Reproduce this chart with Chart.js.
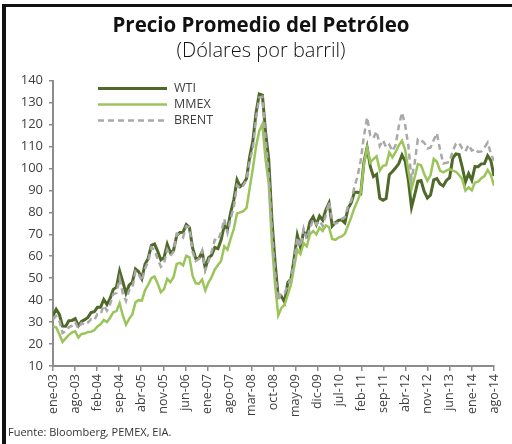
<!DOCTYPE html>
<html>
<head>
<meta charset="utf-8">
<script src="https://cdn.jsdelivr.net/npm/chart.js@4"></script>
<style>
  html, body { margin: 0; padding: 0; background: #fff; }
  #wrap { position: relative; width: 512px; height: 444px; overflow: hidden; }
  #frame { position: absolute; left: 2px; top: 4px; width: 520px; height: 450px;
           border-left: 4px solid #111; border-top: 3px solid #111; }
  #chart { position: absolute; left: 0; top: 0; }
  #source { position: absolute; left: 8px; top: 424px; font: 11px "Open Sans", sans-serif; color: #333; }
</style>
</head>
<body>
<div id="wrap">
  <div id="frame"></div>
  <canvas id="chart" width="512" height="444"></canvas>
  <div id="source">Fuente: Bloomberg, PEMEX, EIA.</div>
</div>
<script>
// Monthly averages, ene-03 .. ago-14 (140 months), USD per barrel
const wti = [
    32.95, 35.83, 33.51, 28.17, 28.11, 30.66, 30.76, 31.57, 28.31, 30.34, 31.11, 32.13,
    34.31, 34.69, 36.74, 36.75, 40.28, 38.03, 40.78, 44.90, 45.94, 53.28, 48.47, 43.15,
    46.84, 48.15, 54.19, 52.98, 49.83, 56.35, 59.00, 64.99, 65.59, 62.26, 58.32, 59.41,
    65.49, 61.63, 62.69, 69.44, 70.84, 70.95, 74.41, 73.04, 63.80, 58.89, 59.08, 61.96,
    54.51, 59.28, 60.44, 63.98, 63.46, 67.49, 74.12, 72.36, 79.92, 85.80, 94.77, 91.69,
    92.97, 95.39, 105.45, 112.58, 125.40, 133.88, 133.37, 116.67, 104.11, 76.61, 57.31, 41.12,
    41.71, 39.09, 47.94, 49.65, 59.03, 69.64, 64.15, 71.05, 69.41, 75.72, 77.99, 74.47,
    78.33, 76.39, 81.20, 84.29, 73.74, 75.34, 76.32, 76.60, 75.24, 81.89, 84.25, 89.15,
    89.17, 88.58, 102.86, 109.53, 100.90, 96.26, 97.30, 86.33, 85.52, 86.32, 97.16, 98.56,
    100.27, 102.20, 106.16, 103.32, 94.66, 82.30, 87.90, 94.13, 94.51, 89.49, 86.53, 87.86,
    94.76, 95.31, 92.94, 92.02, 94.51, 95.77, 104.67, 106.57, 106.29, 100.54, 93.86, 97.63,
    94.62, 100.82, 100.80, 102.07, 102.18, 105.79, 103.59, 96.54
];
const mmex = [
    28.0, 27.6, 24.5, 21.0, 22.6, 24.2, 25.3, 25.8, 23.0, 24.6, 24.8, 25.5,
    25.6, 26.3, 28.0, 29.0, 31.0, 30.0, 32.0, 34.5, 35.0, 38.6, 33.0, 28.8,
    31.5, 33.5, 39.0, 40.0, 39.8, 44.5, 47.0, 50.0, 50.8, 47.5, 43.6, 45.0,
    49.7, 48.2, 50.5, 56.5, 57.0, 55.8, 60.2, 59.5, 51.0, 47.7, 47.5, 49.4,
    44.4, 48.0, 50.5, 54.0, 56.0, 58.0, 64.5, 63.0, 68.0, 72.5, 79.5, 80.0,
    80.5, 82.0, 91.0, 100.0, 110.0, 117.0, 120.2, 104.0, 93.0, 66.0, 47.0, 33.0,
    36.5, 38.0, 42.5, 47.0, 55.0, 63.0, 61.0, 66.0, 64.5, 70.0, 71.5, 70.0,
    73.0, 71.5, 74.0, 73.2, 67.9, 67.5, 68.5, 69.0, 70.2, 74.0, 77.7, 82.0,
    85.3, 89.0, 102.0, 109.5, 102.7, 104.3, 105.5, 99.0, 101.2, 101.5, 107.3, 105.0,
    107.5, 110.5, 112.6, 108.5, 99.0, 90.6, 96.0, 102.0, 101.5, 97.5, 94.4, 97.0,
    104.3, 103.0, 99.0, 98.2, 99.0, 99.7, 99.0, 98.5, 97.0, 95.0, 89.9, 91.4,
    90.0, 93.6, 94.0, 95.5, 96.5, 99.3, 97.0, 92.1
];
const brent = [
    31.18, 32.77, 30.61, 25.00, 25.86, 27.65, 28.35, 29.89, 27.11, 29.61, 28.75, 29.81,
    31.28, 30.86, 33.63, 33.59, 37.57, 35.18, 38.22, 42.74, 43.20, 49.78, 43.11, 39.60,
    44.51, 45.48, 53.10, 51.88, 48.65, 54.35, 57.52, 63.98, 62.91, 58.54, 55.24, 56.86,
    62.99, 60.21, 62.06, 70.26, 69.78, 68.56, 73.67, 73.23, 61.96, 57.81, 58.76, 62.47,
    53.68, 57.56, 62.05, 67.49, 67.21, 71.05, 76.93, 70.76, 77.17, 82.34, 92.41, 90.93,
    92.18, 94.99, 103.64, 109.07, 122.80, 132.32, 132.72, 113.24, 97.23, 71.58, 52.45, 39.95,
    43.44, 43.32, 46.54, 50.18, 57.30, 68.61, 64.44, 72.51, 67.65, 72.77, 76.66, 74.46,
    76.17, 73.75, 78.83, 84.82, 75.95, 74.76, 75.58, 77.04, 77.84, 82.67, 85.28, 91.45,
    96.52, 103.72, 114.64, 123.26, 114.99, 113.83, 116.97, 110.22, 112.83, 109.55, 110.77, 107.87,
    110.69, 119.33, 125.45, 119.75, 110.34, 95.16, 102.62, 113.36, 112.86, 111.71, 109.06, 109.49,
    112.96, 116.05, 108.47, 102.25, 102.56, 102.92, 107.93, 111.28, 111.60, 109.08, 107.79, 110.76,
    108.12, 108.90, 107.48, 107.76, 109.54, 111.80, 106.77, 103.5
];

// x-axis labels, evenly spread over the months
const tickLabels = ['ene-03', 'ago-03', 'feb-04', 'sep-04', 'abr-05', 'nov-05', 'jun-06',
    'ene-07', 'ago-07', 'mar-08', 'oct-08', 'may-09', 'dic-09', 'jul-10', 'feb-11',
    'sep-11', 'abr-12', 'nov-12', 'jun-13', 'ene-14', 'ago-14'];
const yTicks = [10, 20, 30, 40, 50, 60, 70, 80, 90, 100, 110, 120, 130, 140];

const lastIndex = wti.length - 1;
const toPoints = arr => arr.map((v, i) => ({ x: i, y: v }));

const FONT = '"Open Sans", sans-serif';
const AXIS_GRAY = '#8c8c8c';

// Legend drawn inside the plot area, top left
const innerLegend = {
    id: 'innerLegend',
    afterDatasetsDraw(chart) {
        const ctx = chart.ctx;
        const area = chart.chartArea;
        ctx.save();
        ctx.font = '12.5px ' + FONT;
        ctx.textBaseline = 'middle';
        chart.data.datasets.forEach((ds, row) => {
            const y = area.top + 8 + row * 16;
            const x0 = area.left + 45;
            ctx.beginPath();
            ctx.strokeStyle = ds.borderColor;
            ctx.lineWidth = ds.borderWidth;
            ctx.setLineDash(ds.borderDash || []);
            ctx.moveTo(x0, y);
            ctx.lineTo(x0 + 69, y);
            ctx.stroke();
            ctx.setLineDash([]);
            ctx.fillStyle = '#404040';
            ctx.fillText(ds.label, x0 + 76, y);
        });
        ctx.restore();
    }
};

const ctx = document.getElementById('chart').getContext('2d');
new Chart(ctx, {
    type: 'line',
    data: {
        datasets: [
            { label: 'WTI', data: toPoints(wti), borderColor: '#4f6a28', borderWidth: 3, order: 2 },
            { label: 'MMEX', data: toPoints(mmex), borderColor: '#9bc45a', borderWidth: 2.5, order: 1 },
            { label: 'BRENT', data: toPoints(brent), borderColor: '#a9a9a9', borderWidth: 2.5, borderDash: [6, 4], order: 0 }
        ]
    },
    options: {
        responsive: false,
        animation: false,
        events: [],
        elements: { point: { radius: 0 }, line: { tension: 0 } },
        layout: { padding: { left: 22, right: 12, top: 0, bottom: 22 } },
        plugins: {
            legend: { display: false },
            tooltip: { enabled: false },
            title: {
                display: true,
                text: 'Precio Promedio del Petróleo',
                color: '#111',
                font: { family: FONT, size: 20.5, weight: 'bold' },
                padding: { top: 14, bottom: 1 }
            },
            subtitle: {
                display: true,
                text: '(Dólares por barril)',
                color: '#111',
                font: { family: FONT, size: 20, weight: '300' },
                padding: { top: 0, bottom: 17 }
            }
        },
        scales: {
            x: {
                type: 'linear',
                min: 0,
                max: lastIndex,
                afterBuildTicks: scale => {
                    scale.ticks = tickLabels.map((_, i) => ({ value: i * lastIndex / (tickLabels.length - 1) }));
                },
                afterFit: scale => { scale.height = 56; },
                ticks: {
                    autoSkip: false,
                    minRotation: 90,
                    maxRotation: 90,
                    padding: 3,
                    color: '#404040',
                    font: { family: FONT, size: 12.5 },
                    callback: (v, i) => tickLabels[i]
                },
                grid: { drawOnChartArea: false, color: AXIS_GRAY, tickLength: 5, lineWidth: 1.5 },
                border: { color: AXIS_GRAY, width: 2 }
            },
            y: {
                min: yTicks[0],
                max: yTicks[yTicks.length - 1],
                afterBuildTicks: scale => { scale.ticks = yTicks.map(v => ({ value: v })); },
                afterFit: scale => { scale.width = 31; },
                ticks: {
                    padding: 6,
                    color: '#404040',
                    font: { family: FONT, size: 13 }
                },
                grid: { drawOnChartArea: false, color: AXIS_GRAY, tickLength: 4, lineWidth: 1.5 },
                border: { color: AXIS_GRAY, width: 2 }
            }
        }
    },
    plugins: [innerLegend]
});
</script>
</body>
</html>
